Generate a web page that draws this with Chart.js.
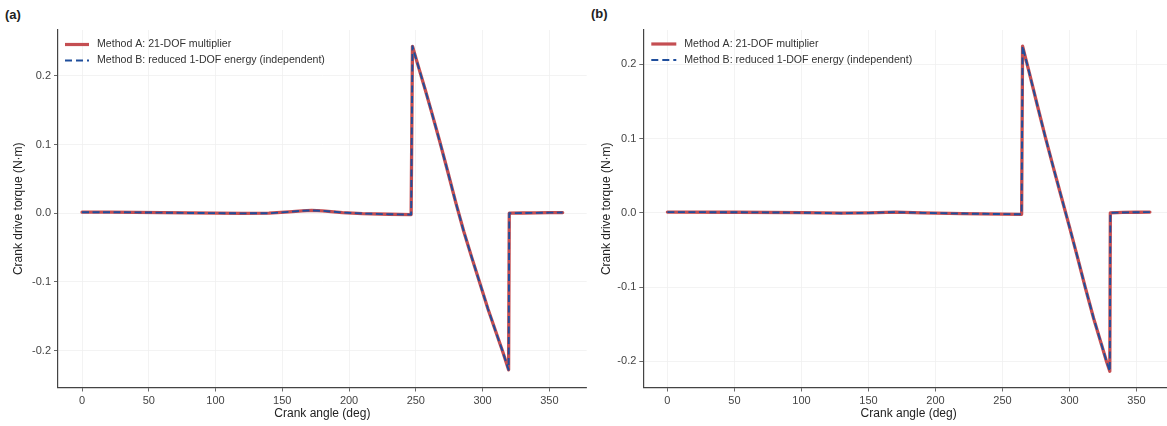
<!DOCTYPE html>
<html>
<head>
<meta charset="utf-8">
<script src="https://cdn.jsdelivr.net/npm/chart.js@4/dist/chart.umd.min.js"></script>
<style>
  html, body { margin: 0; padding: 0; background: #fff; overflow: hidden; width: 1167px; height: 426px; }
  .panel { position: absolute; top: 0; height: 426px; }
  .tag { position: absolute; font: bold 13px "Liberation Sans", Arial, sans-serif; color: #222; }
</style>
</head>
<body>
<div class="tag" style="left:5px;top:7px">(a)</div>
<div class="tag" style="left:591px;top:6px">(b)</div>
<div class="panel" style="left:0;width:600px"><canvas id="chartA" width="600" height="426"></canvas></div>
<div class="panel" style="left:587px;width:600px"><canvas id="chartB" width="600" height="426"></canvas></div>

<script>
// ---- data ----
const xTicks = [0, 50, 100, 150, 200, 250, 300, 350];
const yTicks = [-0.2, -0.1, 0.0, 0.1, 0.2];

const seriesNames = ['Method A: 21-DOF multiplier', 'Method B: reduced 1-DOF energy (independent)'];

// panel (a)
const angleA = [0, 20, 40, 60, 80, 100, 120, 140, 155, 165, 172, 180, 195, 210, 230, 246.5,
  247.5, 252, 257, 262, 268, 274, 280, 286, 292, 298, 304, 310, 315, 319.5,
  320, 330, 340, 350, 360];
const torqueA_methodA = [0.0015, 0.0015, 0.0012, 0.0008, 0.0004, 0.0001, -0.0002, 0.0, 0.002, 0.0035, 0.004, 0.0035, 0.001, -0.0005, -0.0015, -0.002,
  0.243, 0.213, 0.180, 0.146, 0.104, 0.060, 0.015, -0.027, -0.065, -0.102, -0.139, -0.173, -0.201, -0.228,
  0.0, 0.0003, 0.0005, 0.0008, 0.001];
const torqueA_methodB = [0.0015, 0.0015, 0.0012, 0.0008, 0.0004, 0.0001, -0.0002, 0.0, 0.002, 0.0035, 0.004, 0.0035, 0.001, -0.0005, -0.0015, -0.002,
  0.243, 0.213, 0.180, 0.146, 0.104, 0.060, 0.015, -0.027, -0.065, -0.102, -0.139, -0.173, -0.201, -0.228,
  0.0, 0.0003, 0.0005, 0.0008, 0.001];

// panel (b)
const angleB = [0, 50, 100, 130, 150, 170, 190, 220, 264.3,
  265, 270, 276, 282, 288, 294, 300, 306, 312, 318, 324, 327.6, 330.1,
  330.5, 340, 350, 360];
const torqueB_methodA = [0.001, 0.0008, 0.0002, -0.0005, 0.0, 0.001, 0.0, -0.001, -0.002,
  0.2245, 0.189, 0.145, 0.102, 0.061, 0.021, -0.019, -0.060, -0.102, -0.142, -0.178, -0.200, -0.2135,
  0.0, 0.0005, 0.0008, 0.001];
const torqueB_methodB = [0.001, 0.0008, 0.0002, -0.0005, 0.0, 0.001, 0.0, -0.001, -0.002,
  0.2245, 0.189, 0.145, 0.102, 0.061, 0.021, -0.019, -0.060, -0.102, -0.142, -0.178, -0.200, -0.2135,
  0.0, 0.0005, 0.0008, 0.001];

// ---- styling ----
const RED = '#c44e52';
const BLUE = '#1f4e9c';
const FONT = '"Liberation Sans", Arial, sans-serif';
const GRID = '#f0f0f0';
const SPINE = '#444';

function pairs(xs, ys) {
  return xs.map((x, i) => ({ x: x, y: ys[i] }));
}

// legend drawn inside the plot, top-left like the original
const insideLegend = {
  id: 'insideLegend',
  afterDatasetsDraw(chart) {
    const ctx = chart.ctx;
    const area = chart.chartArea;
    const o = chart.options.plugins.insideLegend;
    ctx.save();
    ctx.font = '10.6px ' + FONT;
    ctx.textBaseline = 'middle';
    ctx.fillStyle = '#333';
    const items = [
      { label: seriesNames[0], color: RED, width: 3.2, dash: [] },
      { label: seriesNames[1], color: BLUE, width: 2, dash: [7, 4] }
    ];
    items.forEach((it, i) => {
      const y = area.top + o.top + i * 16;
      ctx.beginPath();
      ctx.strokeStyle = it.color;
      ctx.lineWidth = it.width;
      ctx.setLineDash(it.dash);
      ctx.moveTo(area.left + o.lineFrom, y);
      ctx.lineTo(area.left + o.lineTo, y);
      ctx.stroke();
      ctx.setLineDash([]);
      ctx.fillText(it.label, area.left + o.text, y);
    });
    ctx.restore();
  }
};

function makeChart(id, angles, valsA, valsB, cfg) {
  return new Chart(document.getElementById(id), {
    type: 'line',
    data: {
      datasets: [
        {
          label: seriesNames[0],
          data: pairs(angles, valsA),
          borderColor: RED,
          borderWidth: 3.3,
          borderJoinStyle: 'round',
          borderCapStyle: 'round',
          pointRadius: 0,
          tension: 0,
          order: 2
        },
        {
          label: seriesNames[1],
          data: pairs(angles, valsB),
          borderColor: BLUE,
          borderWidth: 1.9,
          borderDash: [7, 3.5],
          borderJoinStyle: 'round',
          pointRadius: 0,
          tension: 0,
          order: 1
        }
      ]
    },
    options: {
      responsive: false,
      animation: false,
      layout: { padding: { left: 0, right: cfg.padRight, top: 30, bottom: 0 } },
      plugins: {
        legend: { display: false },
        tooltip: { enabled: false },
        insideLegend: cfg.legend
      },
      scales: {
        x: {
          type: 'linear',
          min: -18,
          max: 378,
          afterBuildTicks: s => { s.ticks = xTicks.map(v => ({ value: v })); },
          afterFit: s => { s.height = 38.5; },
          ticks: { color: '#444', font: { family: FONT, size: 11 }, padding: 3, maxRotation: 0 },
          grid: { color: GRID, lineWidth: 0.8, tickColor: SPINE, tickLength: 4 },
          border: { display: true, color: SPINE, width: 1.2 },
          title: { display: true, text: 'Crank angle (deg)', color: '#222', font: { family: FONT, size: 12 }, padding: { top: 0, bottom: 5 } }
        },
        y: {
          type: 'linear',
          min: cfg.yMin,
          max: cfg.yMax,
          afterBuildTicks: s => { s.ticks = yTicks.map(v => ({ value: v })); },
          afterFit: s => { s.width = cfg.yWidth; },
          ticks: { color: '#444', font: { family: FONT, size: 11 }, padding: 3, callback: v => v.toFixed(1) },
          grid: { color: GRID, lineWidth: 0.8, tickColor: SPINE, tickLength: 4 },
          border: { display: true, color: SPINE, width: 1.2 },
          title: { display: true, text: 'Crank drive torque (N·m)', color: '#222', font: { family: FONT, size: 12 }, padding: { top: cfg.titlePad, bottom: 0 } }
        }
      }
    },
    plugins: [insideLegend]
  });
}

makeChart('chartA', angleA, torqueA_methodA, torqueA_methodB, {
  yMin: -0.2537, yMax: 0.2667, yWidth: 58, padRight: 13.3, titlePad: 11,
  legend: { top: 14.5, lineFrom: 7, lineTo: 31, text: 39 }
});
makeChart('chartB', angleB, torqueB_methodA, torqueB_methodB, {
  yMin: -0.2354, yMax: 0.2464, yWidth: 56.3, padRight: 13, titlePad: 12.5,
  legend: { top: 14, lineFrom: 8, lineTo: 33, text: 41 }
});
</script>
</body>
</html>
